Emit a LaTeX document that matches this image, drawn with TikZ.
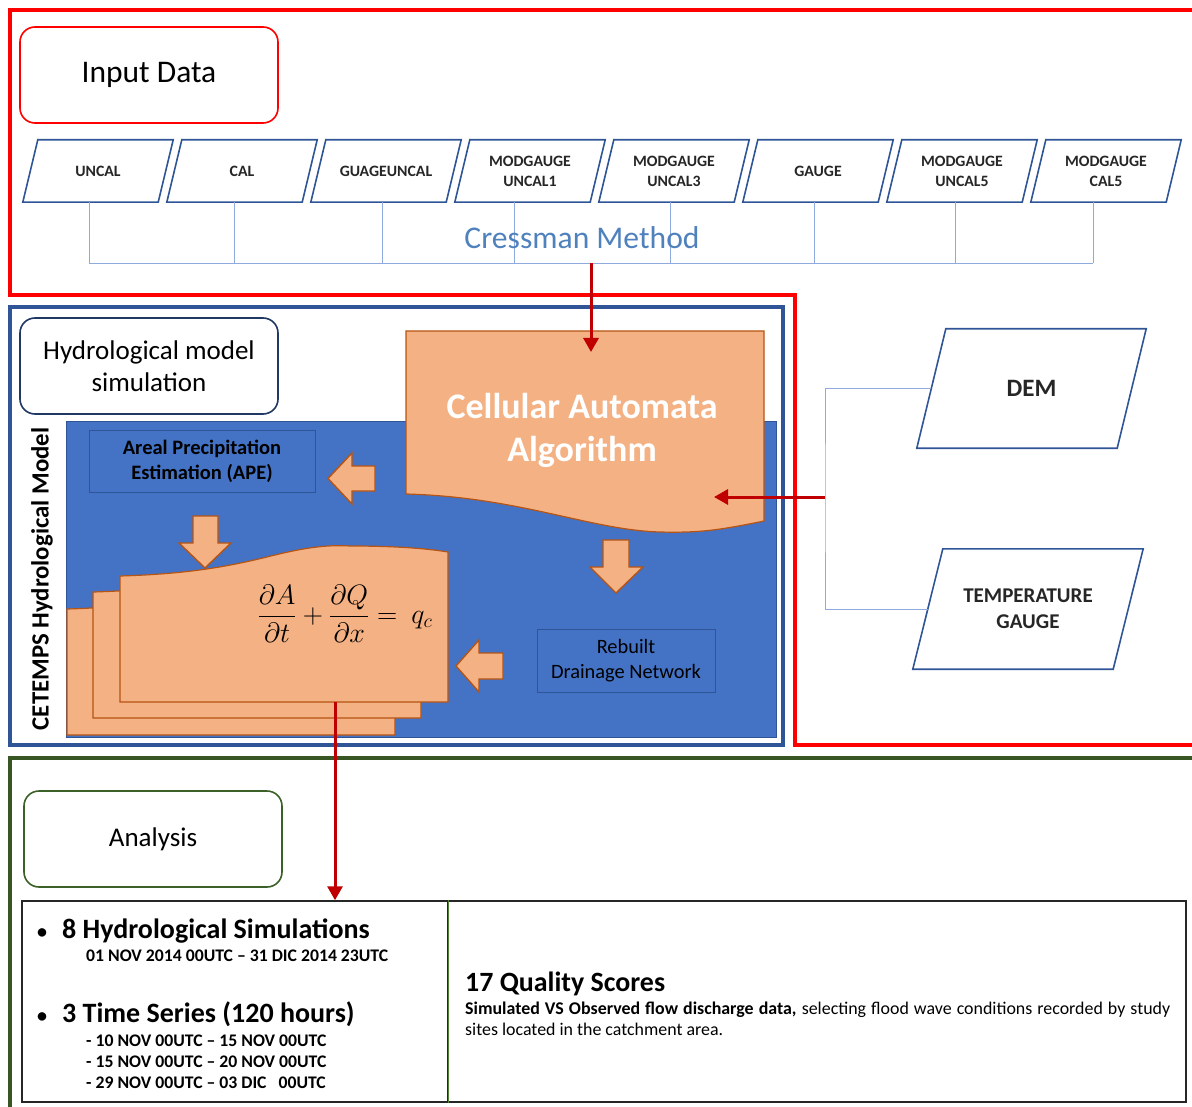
\RequirePackage{fix-cm}
\documentclass[tikz,border=0pt]{standalone}
\usepackage{amsmath}
\usepackage{fontspec}
\setmainfont{Carlito}
\usepackage{tikz}
\usetikzlibrary{arrows.meta}

\definecolor{framered}{HTML}{FF0000}
\definecolor{flowred}{HTML}{C00000}
\definecolor{blueframe}{HTML}{2F5597}
\definecolor{bluefill}{HTML}{4472C4}
\definecolor{navy}{HTML}{203864}
\definecolor{busblue}{HTML}{8FAADC}
\definecolor{cressblue}{HTML}{4F81BD}
\definecolor{peach}{HTML}{F4B183}
\definecolor{peachline}{HTML}{B55414}
\definecolor{framegreen}{HTML}{375623}
\definecolor{boxgreen}{HTML}{3B6128}
\definecolor{cellgreen}{HTML}{548235}
\definecolor{inkgray}{HTML}{262626}

\newcommand{\setfs}[2]{\fontsize{#1}{#2}\selectfont}
% parallelogram round a named node: node, half of the slant
\newcommand{\pgramedge}[2]{%
  \draw[databox] ([xshift=#2]#1.north west) -- ([xshift=#2]#1.north east)
    -- ([xshift=-#2]#1.south east) -- ([xshift=-#2]#1.south west) -- cycle;}

\begin{document}
\begin{tikzpicture}[x=1pt,y=-1pt,
  >={Triangle[length=14pt,width=15pt]},
  frame/.style={line width=4pt},
  titlebox/.style={draw, rounded corners=15pt, line width=1.6pt, minimum width=258pt,
    minimum height=96pt, align=center, font=\setfs{27}{32}},
  databox/.style={draw=blueframe, line width=1.6pt},
  datatext/.style={inner sep=0pt, align=center, text=inkgray, font=\bfseries\setfs{15.8}{20}},
  bus/.style={draw=busblue, line width=0.8pt},
  flow/.style={->, draw=flowred, line width=3pt},
  sheet/.style={fill=peach, draw=peachline, line width=1.2pt},
  blockarrow/.style={fill=peach, draw=peachline, line width=1.4pt, line join=miter},
  innerbox/.style={draw=blueframe, line width=1pt, align=center, inner sep=0pt},
  bigline/.style={anchor=base west, inner sep=0pt, font=\bfseries\setfs{28}{32}},
  dateline/.style={anchor=base west, inner sep=0pt, font=\bfseries\setfs{17.7}{21}}]
  \useasboundingbox (0,0) rectangle (1192,1107);

  % ---- Input data ----
  \draw[framered, frame] (1200,10) -- (10,10) -- (10,295) -- (795,295) -- (795,745) -- (1200,745);
  \node[titlebox, draw=framered, font=\setfs{31.5}{36}] (input) at (149,75) {Input Data};
  \coordinate (busjoin) at (591,263);
  \foreach \nm/\xo/\bx/\lab in {uncal/23/89/UNCAL, cal/167/234/CAL, guageuncal/311/382/GUAGEUNCAL,
      uncalone/455/514/{MODGAUGE\\UNCAL1}, uncalthree/599/670/{MODGAUGE\\UNCAL3}, gauge/743/814/GAUGE,
      uncalfive/887/955/{MODGAUGE\\UNCAL5}, calfive/1031/1093/{MODGAUGE\\CAL5}} {
    \node[datatext, minimum width=135pt, minimum height=62pt] (\nm) at (\xo+75,171) {\lab};
    \pgramedge{\nm}{7.5}
    \draw[bus] ([xshift=\bx-\xo-75]\nm.south) -- ([xshift=\bx-\xo-75]\nm.south |- busjoin);
  }
  \draw[bus] ([xshift=-9]uncal.south |- busjoin) -- ([xshift=-13]calfive.south |- busjoin);
  \node[text=cressblue, font=\setfs{31.6}{36}] (cressman) at (582,238) {Cressman Method};

  % ---- Hydrological model ----
  \draw[blueframe, frame] (10,307) rectangle (783,745);
  \node[titlebox, draw=navy] (hydro) at (149,366) {Hydrological model\\simulation};
  \node[rotate=90, font=\bfseries\setfs{24.8}{28}] (cetemps) at (42,579) {CETEMPS Hydrological Model};
  \filldraw[fill=bluefill, draw=blueframe, line width=1pt] (66,421) rectangle (776,737);

  \draw[sheet] (406,331) -- (764,331) -- (764,521)
    .. controls (720,530) and (700,533) .. (660,532)
    .. controls (590,530) and (520,497) .. (406,494) -- cycle;
  \node[text=white, align=center, font=\bfseries\setfs{36}{43}] (cellalg) at (582,430)
    {Cellular Automata\\Algorithm};
  \coordinate (cain) at (591,352);
  \draw[flow] (busjoin) -- (cain);

  \node[innerbox, minimum width=226pt, minimum height=62pt, font=\bfseries\setfs{20.5}{25}]
    (ape) at (202,461) {Areal Precipitation\\Estimation (APE)};
  \node[innerbox, minimum width=178pt, minimum height=63pt, font=\setfs{20.4}{25}]
    (rebuilt) at (626,661) {Rebuilt\\Drainage Network};

  \foreach \dx/\dy in {-53/33, -27/16, 0/0}
    \draw[sheet, shift={(\dx,\dy)}] (120,702) -- (120,576)
      .. controls (190,574) and (230,566) .. (267,557)
      .. controls (310,546) and (330,545) .. (350,546)
      .. controls (400,546) and (430,549) .. (448,552) -- (448,702) -- cycle;
  \node[font=\setfs{28}{32}] (eq) at (345,614)
    {$\displaystyle \frac{\partial A}{\partial t}+\frac{\partial Q}{\partial x}=\ q_c$};
  \coordinate (sheetfoot) at (335,702);

  % block arrows
  \draw[blockarrow] (328,478.5) -- (352,453) -- (352,466) -- (375,466) -- (375,491) -- (352,491) -- (352,504) -- cycle;
  \draw[blockarrow] (205,568) -- (179,543) -- (193,543) -- (193,516) -- (218,516) -- (218,543) -- (231,543) -- cycle;
  \draw[blockarrow] (616,593) -- (590,567) -- (603,567) -- (603,540) -- (629,540) -- (629,567) -- (643,567) -- cycle;
  \draw[blockarrow] (456,666) -- (479,640) -- (479,653) -- (503,653) -- (503,679) -- (479,679) -- (479,692) -- cycle;

  % ---- DEM and temperature ----
  \node[datatext, font=\bfseries\setfs{25}{28}, minimum width=200pt, minimum height=119pt]
    (dem) at (1031.5,388.5) {DEM};
  \pgramedge{dem}{14.5}
  \node[datatext, font=\bfseries\setfs{21}{26}, minimum width=200pt, minimum height=120pt]
    (temp) at (1028,609) {TEMPERATURE\\GAUGE};
  \pgramedge{temp}{15}
  \coordinate (envx) at (825,497);
  \coordinate (caside) at (714,497);
  \draw[bus] (dem.west) -| (envx) |- (temp.west);
  \draw[flow] (envx) -- (caside);

  % ---- Analysis ----
  \draw[framegreen, frame] (1200,758) -- (10,758) -- (10,1120);
  \node[titlebox, draw=boxgreen] (analysis) at (153,839) {Analysis};
  \node[draw=inkgray, line width=1.5pt, minimum width=426pt, minimum height=201pt, inner sep=0pt]
    (simcell) at (235,1001.5) {};
  \node[draw=inkgray, line width=1.5pt, minimum width=738pt, minimum height=201pt, inner sep=0pt]
    (scorecell) at (817,1001.5) {};
  \draw[cellgreen, line width=1.2pt] (simcell.north east) -- (simcell.south east);
  \draw[flow] (sheetfoot) -- (sheetfoot |- simcell.north);

  \node[bigline] (simtitle) at (37,938)
    {\makebox[25pt][l]{\setfs{20}{20}\textbullet}8 Hydrological Simulations};
  \node[dateline] (simdates) at (86,961) {01 NOV 2014 00UTC -- 31 DIC 2014 23UTC};
  \node[bigline] (seriestitle) at (37,1022)
    {\makebox[25pt][l]{\setfs{20}{20}\textbullet}3 Time Series (120 hours)};
  \node[dateline] (seriesone) at (86,1046) {- 10 NOV 00UTC -- 15 NOV 00UTC};
  \node[dateline] (seriestwo) at (86,1067) {- 15 NOV 00UTC -- 20 NOV 00UTC};
  \node[dateline] (seriesthree) at (86,1088) {- 29 NOV 00UTC -- 03 DIC~~~00UTC};

  \node[anchor=base west, inner sep=0pt, font=\bfseries\setfs{27.9}{30}] (scoretitle) at (465,991)
    {17 Quality Scores};
  \node[anchor=north west, inner sep=0pt, text width=705pt, align=justify, font=\setfs{17.9}{21}]
    (scoretext) at (465,1002)
    {\textbf{Simulated VS Observed flow discharge data,} selecting flood wave conditions recorded by study sites located in the catchment area.};
\end{tikzpicture}
\end{document}
